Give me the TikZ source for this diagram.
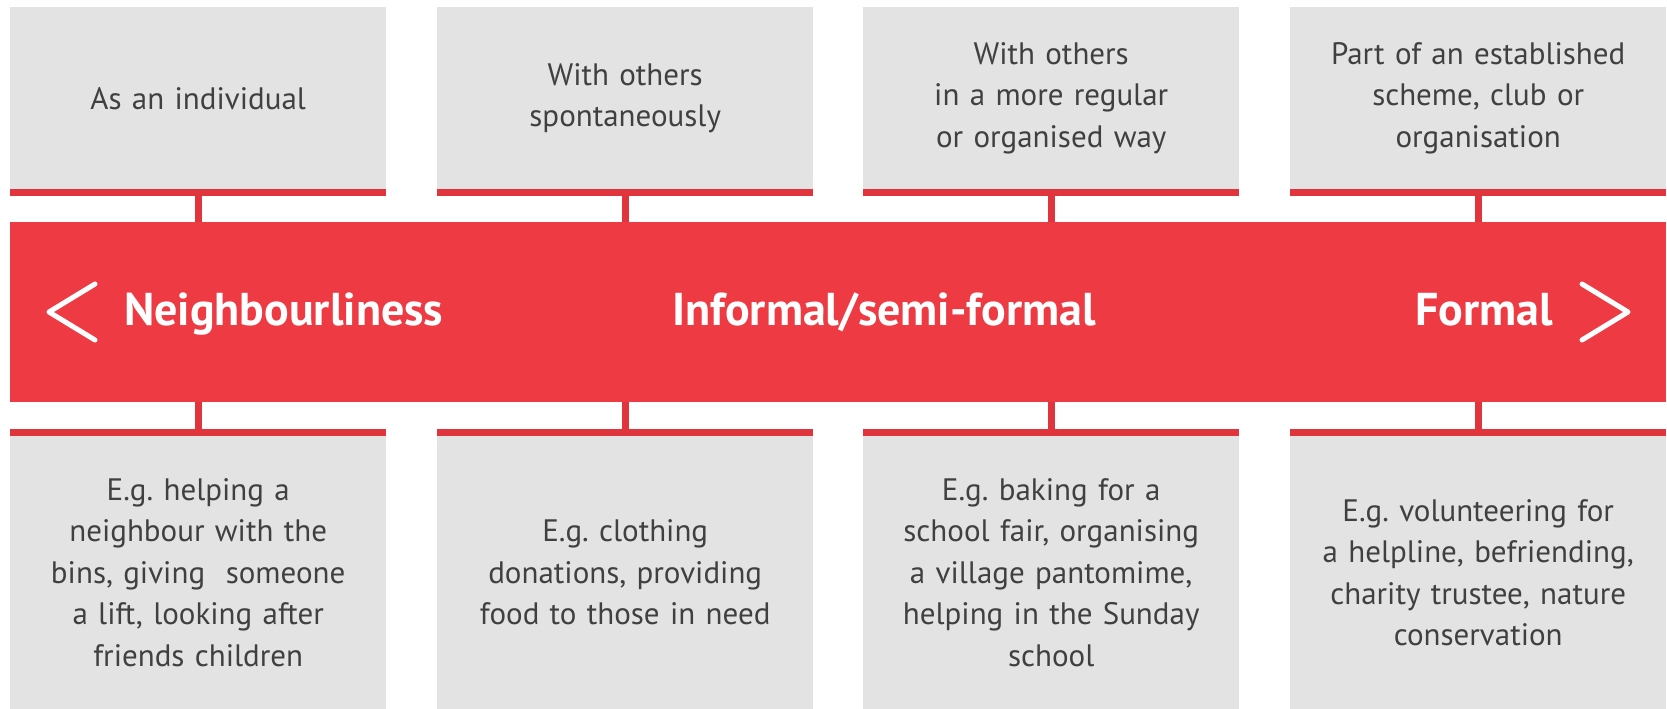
\documentclass[tikz,border=0pt]{standalone}
\usepackage{fontspec}
\setmainfont{PT Sans}
\frenchspacing
\definecolor{bandred}{HTML}{EE3B43}
\definecolor{stripred}{HTML}{E1353D}
\definecolor{cardgrey}{HTML}{E3E3E3}
\definecolor{inkgrey}{HTML}{404040}

\begin{document}
\begin{tikzpicture}[x=1pt,y=-1pt]
	\tikzstyle{card}=[fill=cardgrey, inner sep=0pt, minimum width=376pt, text width=350pt, align=center, text=inkgrey, font=\fontsize{31}{41.5}\selectfont, anchor=north west]
	\tikzstyle{top card}=[card, minimum height=182pt]
	\tikzstyle{bottom card}=[card, minimum height=273pt]
	\tikzstyle{strip}=[fill=stripred]
	\tikzstyle{link}=[draw=stripred, line width=7pt]
	\tikzstyle{chevron}=[draw=white, line width=5pt, line cap=round, line join=round]
	\tikzstyle{band label}=[text=white, font=\bfseries\fontsize{46}{46}\selectfont, inner sep=0pt]
	\useasboundingbox (0,0) rectangle (1667,709);
	\node[fill=bandred, minimum width=1656pt, minimum height=180pt, inner sep=0pt, anchor=north west] (band) at (10,222) {};

	\node[top card] (top1) at (10,7) {As an individual};
	\node[top card] (top2) at (437,7) {With others\\spontaneously};
	\node[top card] (top3) at (863,7) {With others\\in a more regular\\or organised way};
	\node[top card] (top4) at (1290,7) {Part of an established\\scheme, club or\\organisation};

	\node[bottom card] (bot1) at (10,436) {E.g. helping a\\neighbour with the\\bins, giving\ \ someone\\a lift, looking after\\friends children};
	\node[bottom card] (bot2) at (437,436) {E.g. clothing\\donations, providing\\food to those in need};
	\node[bottom card] (bot3) at (863,436) {E.g. baking for a\\school fair, organising\\a village pantomime,\\helping in the Sunday\\school};
	\node[bottom card] (bot4) at (1290,436) {E.g. volunteering for\\a helpline, befriending,\\charity trustee, nature\\conservation};

	\fill[strip] (top1.south west) rectangle ++(376,7);
	\fill[strip] (top2.south west) rectangle ++(376,7);
	\fill[strip] (top3.south west) rectangle ++(376,7);
	\fill[strip] (top4.south west) rectangle ++(376,7);
	\fill[strip] (bot1.north west) rectangle ++(376,-7);
	\fill[strip] (bot2.north west) rectangle ++(376,-7);
	\fill[strip] (bot3.north west) rectangle ++(376,-7);
	\fill[strip] (bot4.north west) rectangle ++(376,-7);

	\draw[link] (top1.south) -- (top1.south |- band.north);
	\draw[link] (top2.south) -- (top2.south |- band.north);
	\draw[link] (top3.south) -- (top3.south |- band.north);
	\draw[link] (top4.south) -- (top4.south |- band.north);
	\draw[link] (bot1.north |- band.south) -- (bot1.north);
	\draw[link] (bot2.north |- band.south) -- (bot2.north);
	\draw[link] (bot3.north |- band.south) -- (bot3.north);
	\draw[link] (bot4.north |- band.south) -- (bot4.north);

	\node[band label, anchor=base west] (neighbourly) at (124,325) {Neighbourliness};
	\node[band label, anchor=base] (informal) at (884,325) {Informal/semi-formal};
	\node[band label, anchor=base east] (formal) at (1553,325) {Formal};
	\draw[chevron] (95,284) -- (49,312) -- (95,340);
	\draw[chevron] (1582,284) -- (1628,312) -- (1582,340);
\end{tikzpicture}
\end{document}
